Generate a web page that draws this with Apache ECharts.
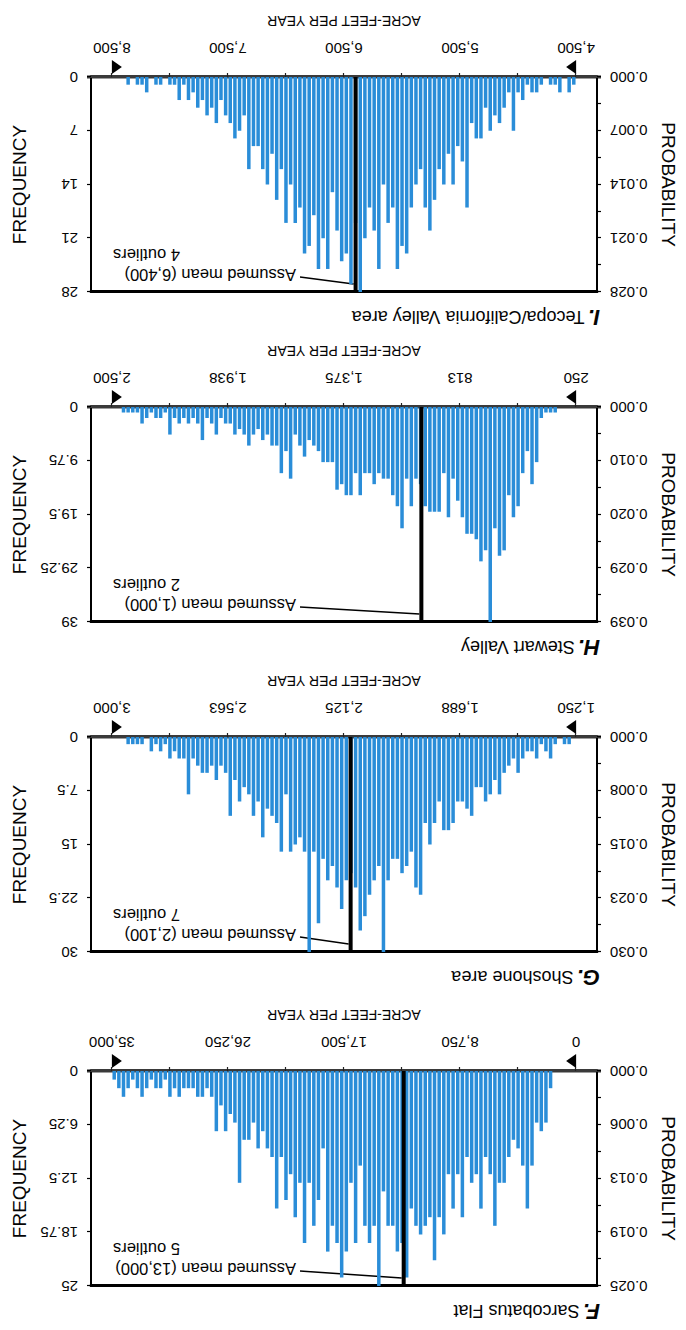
<!DOCTYPE html>
<html>
<head>
<meta charset="utf-8">
<script src="https://cdn.jsdelivr.net/npm/echarts@6/dist/echarts.min.js"></script>
<style>
  html, body { margin: 0; padding: 0; background: #fff; }
  /* the printed page is turned upside down */
  #chart { width: 686px; height: 1330px; transform: rotate(180deg); transform-origin: 50% 50%; }
</style>
</head>
<body>
<div id="chart"></div>
<script>
// ---- panels, in reading order ----
const panelLetters = ['F.', 'G.', 'H.', 'I.'];
const panelNames = ['Sarcobatus Flat', 'Shoshone area', 'Stewart Valley', 'Tecopa/California Valley area'];

// recharge range (acre-feet per year) shown on each x axis
const rangeLow = [0, 1250, 250, 4500];
const rangeHigh = [35000, 3000, 2500, 8500];
const xTickLabels = [
  ['0', '8,750', '17,500', '26,250', '35,000'],
  ['1,250', '1,688', '2,125', '2,563', '3,000'],
  ['250', '813', '1,375', '1,938', '2,500'],
  ['4,500', '5,500', '6,500', '7,500', '8,500']
];

// frequency / probability axes
const freqMax = [25, 30, 39, 28];
const freqTickLabels = [
  ['0', '6.25', '12.5', '18.75', '25'],
  ['0', '7.5', '15', '22.5', '30'],
  ['0', '9.75', '19.5', '29.25', '39'],
  ['0', '7', '14', '21', '28']
];
const probTickLabels = [
  ['0.000', '0.006', '0.013', '0.019', '0.025'],
  ['0.000', '0.008', '0.015', '0.023', '0.030'],
  ['0.000', '0.010', '0.020', '0.029', '0.039'],
  ['0.000', '0.007', '0.014', '0.021', '0.028']
];

// assumed means and outliers
const assumedMean = [13000, 2100, 1000, 6400];
const meanLabels = ['Assumed mean (13,000)', 'Assumed mean (2,100)', 'Assumed mean (1,000)', 'Assumed mean (6,400)'];
const outlierLabels = ['5 outliers', '7 outliers', '2 outliers', '4 outliers'];

// histogram counts, 100 equal bins from low to high
const freqF = [
  0, 0, 0, 0, 0, 2, 6, 7, 6, 11,
  16, 11, 9, 8, 10, 13, 13, 18, 12, 10,
  16, 12, 13, 10, 17, 12, 16, 12, 19, 17,
  22, 17, 18, 19, 18, 16, 24, 20, 21, 18,
  18, 14, 25, 18, 20, 18, 11, 20, 13, 21,
  24, 20, 18, 21, 9, 15, 18, 13, 20, 13,
  17, 12, 15, 10, 16, 10, 9, 7, 9, 6,
  8, 8, 13, 6, 5, 7, 4, 7, 3, 2,
  3, 3, 2, 2, 2, 3, 2, 3, 1, 2,
  2, 1, 2, 3, 2, 1, 2, 3, 2, 1
];
const freqG = [
  0, 1, 1, 0, 1, 3, 2, 1, 3, 2,
  2, 3, 5, 3, 4, 5, 8, 6, 8, 9,
  7, 7, 11, 10, 9, 9, 12, 13, 13, 9,
  12, 15, 12, 22, 21, 16, 18, 19, 17, 17,
  20, 30, 18, 20, 22, 25, 27, 21, 19, 20,
  24, 21, 18, 20, 17, 26, 16, 30, 16, 14,
  15, 16, 8, 16, 12, 11, 10, 14, 9, 11,
  8, 7, 9, 6, 11, 5, 4, 6, 4, 5,
  5, 4, 3, 8, 3, 3, 2, 3, 1, 2,
  1, 2, 0, 1, 1, 1, 1, 0, 0, 0
];
const freqH = [
  0, 0, 0, 0, 1, 1, 1, 2, 10, 14,
  8, 12, 18, 20, 16, 26, 27, 22, 39, 26,
  28, 24, 23, 23, 20, 17, 13, 20, 12, 19,
  19, 19, 18, 14, 13, 18, 13, 22, 18, 16,
  13, 13, 12, 14, 12, 12, 16, 12, 16, 16,
  14, 15, 10, 10, 10, 8, 7, 6, 9, 7,
  5, 13, 8, 12, 7, 7, 5, 6, 4, 5,
  7, 5, 4, 5, 3, 3, 2, 5, 3, 2,
  6, 3, 2, 3, 2, 3, 2, 5, 1, 2,
  2, 1, 2, 3, 1, 1, 1, 1, 0, 0
];
const freqI = [
  1, 2, 0, 2, 1, 1, 0, 1, 2, 2,
  1, 3, 2, 7, 2, 4, 6, 5, 7, 4,
  8, 8, 6, 17, 11, 9, 14, 10, 14, 12,
  16, 20, 17, 12, 14, 17, 23, 22, 25, 17,
  19, 14, 25, 20, 17, 21, 28, 19, 27, 23,
  24, 20, 15, 25, 21, 25, 18, 22, 23, 17,
  19, 14, 19, 12, 16, 10, 14, 12, 9, 9,
  12, 5, 7, 8, 6, 5, 3, 6, 4, 5,
  3, 4, 2, 3, 1, 3, 1, 1, 0, 1,
  1, 0, 2, 1, 1, 0, 1, 0, 0, 0
];
const freqData = [freqF, freqG, freqH, freqI];

// ---- layout ----
const FONT = "'Liberation Sans', Arial, Helvetica, sans-serif";
const gridTop = [44, 378, 708, 1038];
const gridHeight = 215;
const gridLeft = 89;
const gridRight = 91;
const BAR_BLUE = '#2a8dd8';
const INK = '#050505';

const chart = echarts.init(document.getElementById('chart'), null, { renderer: 'svg' });

const grids = [], xAxes = [], yAxes = [], series = [];
for (let p = 0; p < 4; p++) {
  const lo = rangeLow[p], hi = rangeHigh[p], span = hi - lo, pad = span * 0.045;
  const binW = span / freqData[p].length;
  const xQuarters = [0, 1, 2, 3, 4].map(k => lo + k * span / 4);
  const xEighths = [0, 1, 2, 3, 4, 5, 6, 7, 8].map(k => lo + k * span / 8);
  const fMax = freqMax[p];
  const yQuarters = [0, 1, 2, 3, 4].map(k => k * fMax / 4);
  const yEighths = [0, 1, 2, 3, 4, 5, 6, 7, 8].map(k => k * fMax / 8);

  grids.push({ left: gridLeft, right: gridRight, top: gridTop[p], height: gridHeight });

  // bottom value axis (baseline) with tick labels
  xAxes.push({
    type: 'value', gridIndex: p, position: 'bottom', min: lo - pad, max: hi + pad,
    axisLine: { onZero: false, lineStyle: { color: '#3a3a3a', width: 3 } },
    axisTick: { customValues: xEighths, length: 4, lineStyle: { color: '#222', width: 1.2 } },
    axisLabel: {
      customValues: xQuarters, margin: 21, fontSize: 15, color: INK, fontFamily: FONT,
      formatter: v => xTickLabels[p][Math.round((v - lo) / (span / 4))]
    },
    splitLine: { show: false },
    name: 'ACRE-FEET PER YEAR', nameLocation: 'middle', nameGap: 49,
    nameTextStyle: { fontSize: 14, color: INK, fontFamily: FONT }
  });
  // top frame line
  xAxes.push({
    type: 'value', gridIndex: p, position: 'top', min: lo - pad, max: hi + pad,
    axisLine: { onZero: false, lineStyle: { color: '#000', width: 3 } },
    axisTick: { show: false }, axisLabel: { show: false }, splitLine: { show: false }
  });
  // probability (left)
  yAxes.push({
    type: 'value', gridIndex: p, position: 'left', min: 0, max: fMax,
    axisLine: { onZero: false, lineStyle: { color: '#000', width: 2 } },
    axisTick: { customValues: yEighths, length: 4, lineStyle: { color: '#000', width: 1.2 } },
    axisLabel: {
      customValues: yQuarters, margin: 13, fontSize: 15, color: INK, fontFamily: FONT,
      formatter: v => probTickLabels[p][Math.round(v / (fMax / 4))]
    },
    splitLine: { show: false },
    name: 'PROBABILITY', nameLocation: 'middle', nameGap: 62, nameRotate: 90,
    nameTextStyle: { fontSize: 19, color: INK, fontFamily: FONT }
  });
  // frequency (right)
  yAxes.push({
    type: 'value', gridIndex: p, position: 'right', min: 0, max: fMax,
    axisLine: { onZero: false, lineStyle: { color: '#000', width: 2 } },
    axisTick: { customValues: yQuarters, length: 4, lineStyle: { color: '#000', width: 1.2 } },
    axisLabel: {
      customValues: yQuarters, margin: 13, fontSize: 15, color: INK, fontFamily: FONT,
      formatter: v => freqTickLabels[p][Math.round(v / (fMax / 4))]
    },
    splitLine: { show: false },
    name: 'FREQUENCY', nameLocation: 'middle', nameGap: 62, nameRotate: -90,
    nameTextStyle: { fontSize: 19, color: INK, fontFamily: FONT }
  });

  series.push({
    type: 'bar', xAxisIndex: 2 * p, yAxisIndex: 2 * p + 1, barWidth: 3.5,
    data: freqData[p].map((v, i) => [lo + (i + 0.5) * binW, v]),
    itemStyle: { color: BAR_BLUE }, z: 2, silent: true
  });
  series.push({
    type: 'line', xAxisIndex: 2 * p, yAxisIndex: 2 * p + 1,
    data: [[assumedMean[p], 0], [assumedMean[p], fMax]],
    symbol: 'none', lineStyle: { color: '#000', width: 4 }, z: 3, silent: true
  });
}

chart.setOption({
  animation: false,
  backgroundColor: '#fff',
  grid: grids, xAxis: xAxes, yAxis: yAxes, series: series
});

// titles, annotations, range markers placed from the axes' own scales
const graphics = [];
for (let p = 0; p < 4; p++) {
  const top = gridTop[p];
  const finder = { xAxisIndex: 2 * p, yAxisIndex: 2 * p + 1 };
  const base = chart.convertToPixel(finder, [rangeLow[p], 0]);
  const end = chart.convertToPixel(finder, [rangeHigh[p], 0]);
  const meanTop = chart.convertToPixel(finder, [assumedMean[p], freqMax[p]]);

  graphics.push({
    type: 'text', x: 86, y: top - 25, silent: true,
    style: {
      text: '{l|' + panelLetters[p] + '} {n|' + panelNames[p] + '}',
      verticalAlign: 'middle', fill: INK,
      rich: {
        l: { fontSize: 22, fontWeight: 'bold', fontStyle: 'italic', fontFamily: FONT, fill: INK },
        n: { fontSize: 18, fontFamily: FONT, fill: INK }
      }
    }
  });
  graphics.push({
    type: 'text', x: 390, y: top + 17, silent: true,
    style: { text: meanLabels[p], font: '16.5px ' + FONT, fill: INK, align: 'left', verticalAlign: 'middle' }
  });
  graphics.push({
    type: 'text', x: 573, y: top + 37, silent: true,
    style: { text: outlierLabels[p], font: '16.5px ' + FONT, fill: INK, align: 'right', verticalAlign: 'middle' }
  });
  graphics.push({
    type: 'line', silent: true,
    shape: { x1: 386, y1: top + 15, x2: meanTop[0] + 2, y2: top + 8 },
    style: { stroke: '#000', lineWidth: 1.3 }
  });
  // baseline runs a little past the frame on both sides
  graphics.push({
    type: 'line', silent: true,
    shape: { x1: gridLeft - 4, y1: base[1], x2: 686 - gridRight + 4, y2: base[1] },
    style: { stroke: '#3a3a3a', lineWidth: 3 }
  });
  // range end markers under the baseline
  graphics.push({
    type: 'polygon', silent: true,
    shape: { points: [[base[0], base[1] + 3], [base[0], base[1] + 17], [base[0] + 10, base[1] + 10]] },
    style: { fill: '#000' }
  });
  graphics.push({
    type: 'polygon', silent: true,
    shape: { points: [[end[0], end[1] + 3], [end[0], end[1] + 17], [end[0] - 10, end[1] + 10]] },
    style: { fill: '#000' }
  });
}
chart.setOption({ graphic: graphics });
</script>
</body>
</html>
